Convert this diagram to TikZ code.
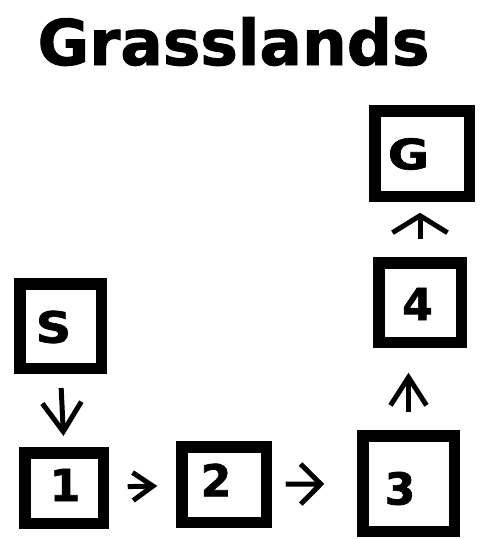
\documentclass[tikz,border=0pt]{standalone}
\usepackage{fontspec}
\usepackage{graphicx}
\setmainfont{DejaVu Sans}
\newfontfamily\heavyfont{DejaVu Sans}[UprightFont = *-Bold, FakeBold = 1.5]
\usetikzlibrary{arrows.meta}

\tikzset{
	cell/.style = {draw, line width = 11.5pt, inner sep = 0pt},
	mark letter/.style = {inner sep = 0pt, font = \heavyfont\fontsize{#1}{#1}\selectfont},
	mark letter/.default = 44,
	flow/.style = {line width = 5pt}
}

\begin{document}

\begin{tikzpicture}[x = 1pt, y = -1pt]

	\useasboundingbox (0, 0) rectangle (480, 539);

	% Title
	
	\node [anchor = base, font = \heavyfont\fontsize{63}{63}\selectfont] (title) at (233.5, 65) {Grasslands};

	% The squares
	
	\node [cell, minimum width = 81.5pt, minimum height = 84.5pt] (start) at (60.5, 326) {};
	\node [cell, minimum width = 78.5pt, minimum height = 70.5pt] (one) at (64, 488) {};
	\node [cell, minimum width = 84.5pt, minimum height = 75.5pt] (two) at (224, 484.5) {};
	\node [cell, minimum width = 91.5pt, minimum height = 95.5pt] (three) at (408.5, 483.5) {};
	\node [cell, minimum width = 82.5pt, minimum height = 79.5pt] (four) at (420, 302.5) {};
	\node [cell, minimum width = 94.5pt, minimum height = 85.5pt] (goal) at (422, 153.5) {};

	% Letters in the squares
	
	\node [mark letter = 43] (start text) at ([shift = {(-7, 1)}] start) {\scalebox{1.15}[1]{S}};
	\node [mark letter] (one text) at ([shift = {(1, -3)}] one) {1};
	\node [mark letter] (two text) at ([shift = {(-8, -4.5)}] two) {2};
	\node [mark letter] (three text) at ([shift = {(-8.5, 5)}] three) {3};
	\node [mark letter] (four text) at ([shift = {(-2.5, 1.5)}] four) {4};
	\node [mark letter = 42] (goal text) at ([shift = {(-13.5, 0.5)}] goal) {\scalebox{1.2}[1]{G}};

	% Path from start to goal
	
	\draw [flow, -{Straight Barb[length = 29pt, width = 39pt]}, shorten < = 14pt, shorten > = 11pt] (start.south) -- (one.north);
	\draw [flow, -{Straight Barb[length = 20pt, width = 28pt]}, shorten < = 18.75pt, shorten > = 18.75pt] (one) -- (two);
	\draw [flow, -{Straight Barb[length = 20pt, width = 40pt]}, shorten < = 13.75pt, shorten > = 32.75pt] (two) -- (three);
	\draw [flow, -{Straight Barb[length = 28pt, width = 36pt]}, shorten < = 17.75pt, shorten > = 24.75pt] (three.north) -- (three.north |- four.south);
	\draw [flow, -{Straight Barb[length = 17pt, width = 55pt]}, shorten < = 17.75pt, shorten > = 10.75pt] (four.north) -- (four.north |- goal.south);

\end{tikzpicture}

\end{document}
